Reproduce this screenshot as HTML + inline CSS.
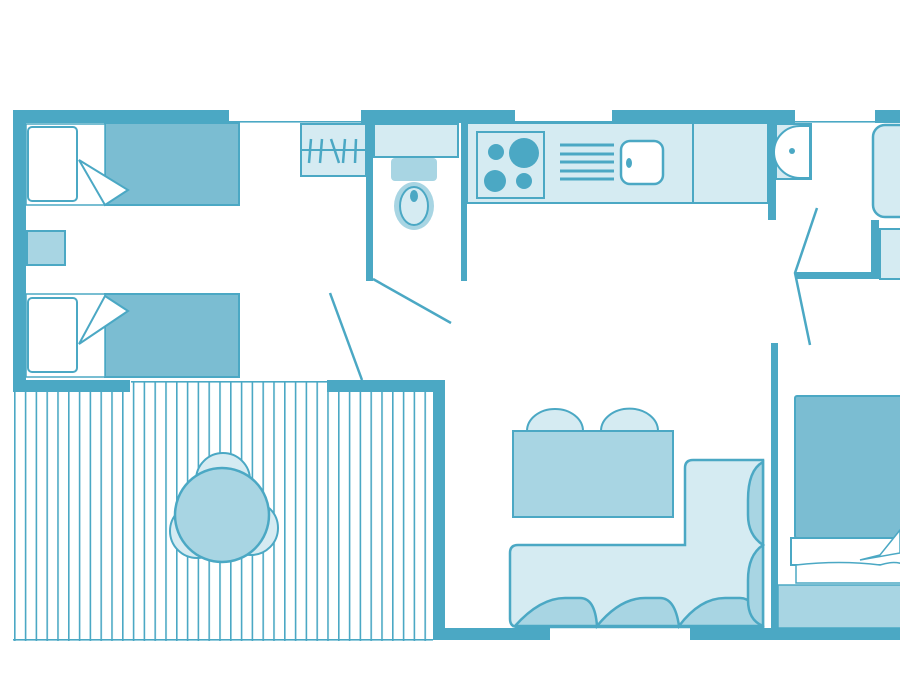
<!DOCTYPE html>
<html><head><style>html,body{margin:0;padding:0;background:#fff}svg{display:block}</style></head>
<body>
<svg width="900" height="675" viewBox="0 0 900 675" xmlns="http://www.w3.org/2000/svg">
<defs>
<pattern id="st" x="14" y="0" width="10.8" height="10" patternUnits="userSpaceOnUse">
<rect x="0" y="0" width="1.6" height="10" fill="#4ba8c4"/>
</pattern>
</defs>
<g fill="#4ba8c4" stroke="none">
<!-- terrace -->
<rect x="13" y="381" width="420" height="260" fill="url(#st)"/>
<rect x="131" y="381" width="197" height="1.6"/>
<rect x="13" y="639" width="420" height="1.6"/>
<!-- outer walls -->
<rect x="13" y="110" width="216" height="13"/>
<rect x="13" y="110" width="13" height="282"/>
<rect x="229" y="121" width="133" height="1.6"/>
<rect x="361" y="110" width="154" height="13"/>
<rect x="515" y="121" width="97" height="1.6"/>
<rect x="612" y="110" width="183" height="13"/>
<rect x="795" y="121" width="80" height="1.6"/>
<rect x="875" y="110" width="25" height="13"/>
<rect x="366" y="122" width="7" height="159"/>
<rect x="461" y="122" width="6" height="159"/>
<rect x="768" y="122" width="8" height="98"/>
<rect x="795" y="272" width="85" height="7"/>
<rect x="871" y="220" width="8" height="59"/>
<rect x="771" y="343" width="7" height="287"/>
<rect x="13" y="380" width="117" height="12"/>
<rect x="327" y="380" width="118" height="12"/>
<rect x="433" y="380" width="12" height="260"/>
<rect x="445" y="628" width="105" height="12"/>
<rect x="690" y="628" width="210" height="12"/>
</g>
<g stroke="#4ba8c4" stroke-width="2.5" fill="none">
<line x1="373" y1="279" x2="451" y2="323"/>
<line x1="330" y1="293" x2="362" y2="380"/>
<polyline points="817,208 795,273 810,345"/>
</g>
<g stroke="#4ba8c4" stroke-width="2">
<!-- beds left -->
<rect x="105" y="123" width="134" height="82" fill="#7bbdd2"/>
<rect x="105" y="294" width="134" height="83" fill="#7bbdd2"/>
<rect x="26" y="124" width="79" height="81" fill="#fff" stroke-width="1.5"/>
<rect x="26" y="294" width="79" height="83" fill="#fff" stroke-width="1.5"/>
<rect x="28" y="127" width="49" height="74" rx="4" fill="#fff"/>
<rect x="28" y="298" width="49" height="74" rx="4" fill="#fff"/>
<polygon points="79,160 128,190 105,205" fill="#fff"/>
<polygon points="105,296 128,311 79,344" fill="#fff"/>
<rect x="27" y="231" width="38" height="34" fill="#a8d5e3"/>
<!-- closet -->
<rect x="301" y="124" width="65" height="52" fill="#d5ebf2"/>
<line x1="301" y1="150" x2="366" y2="150"/>
<g stroke-width="2.5"><line x1="311" y1="139" x2="309" y2="163"/><line x1="322" y1="139" x2="320" y2="163"/><line x1="331" y1="139" x2="339" y2="163"/><line x1="345" y1="139" x2="343" y2="163"/><line x1="356" y1="139" x2="355" y2="163"/></g>
<!-- toilet -->
<rect x="374" y="124" width="84" height="33" fill="#d5ebf2"/>
<rect x="391" y="158" width="46" height="23" rx="4" fill="#a8d5e3" stroke="none"/>
<ellipse cx="414" cy="206" rx="20" ry="24" fill="#a8d5e3" stroke="none"/>
<ellipse cx="414" cy="206" rx="14" ry="19" fill="#d5ebf2"/>
<ellipse cx="414" cy="196" rx="4" ry="6" fill="#4ba8c4" stroke="none"/>
<!-- kitchen -->
<rect x="467" y="123" width="301" height="80" fill="#d5ebf2"/>
<line x1="693" y1="123" x2="693" y2="203"/>
<rect x="477" y="132" width="67" height="66" fill="#d5ebf2"/>
<g fill="#4ba8c4" stroke="none"><circle cx="496" cy="152" r="8"/><circle cx="524" cy="153" r="15"/><circle cx="495" cy="181" r="11"/><circle cx="524" cy="181" r="8"/></g>
<g stroke-width="3"><line x1="560" y1="145" x2="614" y2="145"/><line x1="560" y1="154" x2="614" y2="154"/><line x1="560" y1="162" x2="614" y2="162"/><line x1="560" y1="171" x2="614" y2="171"/><line x1="560" y1="179" x2="614" y2="179"/></g>
<rect x="621" y="141" width="42" height="43" rx="9" fill="#fff" stroke-width="2.5"/>
<ellipse cx="629" cy="163" rx="3" ry="5" fill="#4ba8c4" stroke="none"/>
<!-- basin -->
<rect x="776" y="124" width="35" height="55" fill="#d5ebf2"/>
<path d="M810,126 L800,126 A26,26 0 0 0 800,178 L810,178 Z" fill="#fff"/>
<circle cx="792" cy="151" r="3" fill="#4ba8c4" stroke="none"/>
<!-- right bath -->
<rect x="873" y="125" width="40" height="92" rx="12" fill="#d5ebf2" stroke-width="2.5"/>
<rect x="880" y="229" width="25" height="50" fill="#d5ebf2"/>
<!-- dining table -->
<path d="M527,431 A28,22 0 0 1 583,431 Z" fill="#d5ebf2"/>
<path d="M601,431 A28,22 0 0 1 658,431 Z" fill="#d5ebf2"/>
<rect x="513" y="431" width="160" height="86" fill="#a8d5e3"/>
<!-- sofa -->
<path d="M518,545 L685,545 L685,468 Q685,460 693,460 L763,460 L763,627 L518,627 Q510,627 510,619 L510,553 Q510,545 518,545 Z" fill="#d5ebf2" stroke-width="2.5"/>
<path d="M515,626 Q540,598 565,598 L580,598 Q595,598 597,626 Q620,598 645,598 L660,598 Q675,598 679,626 Q700,598 725,598 L740,598 Q755,598 763,626 Z" fill="#a8d5e3" stroke-width="2.5"/>
<path d="M763,462 Q748,470 748,500 L748,515 Q748,535 763,545 Q748,555 748,580 L748,600 Q748,620 763,626 Z" fill="#a8d5e3" stroke-width="2.5"/>
<!-- right bedroom -->
<rect x="795" y="396" width="110" height="142" rx="2" fill="#7bbdd2"/>
<rect x="791" y="538" width="115" height="27" fill="#fff"/>
<path d="M796,565 Q840,560 880,565 Q895,560 905,565 L905,583 L796,583 Z" fill="#fff" stroke-width="1.5"/>
<polygon points="900,530 880,555 860,560 900,553" fill="#fff" stroke-width="1.5"/>
<rect x="778" y="585" width="125" height="43" fill="#a8d5e3" stroke-width="1.5"/>
<!-- round table -->
<circle cx="223" cy="480" r="27" fill="#d5ebf2"/>
<circle cx="197" cy="531" r="27" fill="#d5ebf2"/>
<circle cx="251" cy="528" r="27" fill="#d5ebf2"/>
<circle cx="222" cy="515" r="47" fill="#a8d5e3" stroke-width="2.5"/>
</g>
</svg>
</body></html>
